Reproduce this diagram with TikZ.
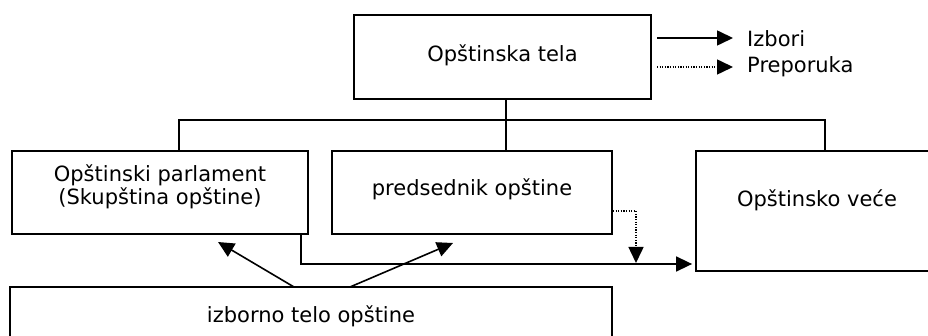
\documentclass[tikz,border=0pt]{standalone}
\usepackage{fontspec}
\setmainfont{DejaVu Sans}
\usetikzlibrary{arrows.meta}
\begin{document}
\begin{tikzpicture}[x=1pt,y=-1pt,
  box/.style={draw,line width=1.8pt,inner sep=0pt},
  lbl/.style={inner sep=0pt,anchor=base,font=\fontsize{21}{24}\selectfont},
  conn/.style={line width=1.8pt},
  arr/.style={line width=1.6pt,-{Triangle[length=16pt,width=15pt]}},
  dotline/.style={line width=1.5pt,dash pattern=on 1.2pt off 1.4pt},
  dotarr/.style={dotline,-{Triangle[length=16pt,width=15pt]}}]
\useasboundingbox (0,0) rectangle (928,336);
\clip (0,0) rectangle (928,336);
% boxes
\node[box,minimum width=297pt,minimum height=84pt] (top) at (502.5,57) {};
\node[box,minimum width=296pt,minimum height=83pt] (parl) at (160,192.5) {};
\node[box,minimum width=280pt,minimum height=83pt] (pred) at (472,192.5) {};
\node[box,minimum width=242pt,minimum height=120pt] (vece) at (817,211) {};
\node[box,minimum width=602pt,minimum height=63pt] (izb) at (311,318.5) {};
% texts
\node[lbl] (toptxt) at (502.5,62) {Opštinska tela};
\node[lbl] (parltxta) at (160,182) {Opštinski parlament};
\node[lbl] (parltxtb) at (160,205) {(Skupština opštine)};
\node[lbl] (predtxt) at (472,196) {predsednik opštine};
\node[lbl] (vecetxt) at (817,207) {Opštinsko veće};
\node[lbl] (izbtxt) at (311,322) {izborno telo opštine};
% legend
\node[lbl,anchor=base west] (lg1) at (747,47) {Izbori};
\node[lbl,anchor=base west] (lg2) at (747,73) {Preporuka};
\coordinate (la1) at (657,38);
\coordinate (lb1) at (733,38);
\coordinate (la2) at (657,67);
\coordinate (lb2) at (733,67);
\draw[arr] (la1) -- (lb1);
\draw[dotarr] (la2) -- (lb2);
% tree connectors
\coordinate (jm) at (506,120);
\coordinate (jl) at (179,120);
\coordinate (jr) at (825,120);
\draw[conn] (top.south -| jm) -- (pred.north -| jm);
\draw[conn] (parl.north -| jl) -- (jl) -- (jr) -- (vece.north -| jr);
% parlament -> vece
\coordinate (pv) at (301,264);
\draw[arr,shorten >=3pt] (parl.south -| pv) |- (vece.west |- pv);
% predsednik dotted -> line
\coordinate (dm) at (636,211);
\coordinate (dd) at (636,263);
\draw[dotarr] (dm -| pred.east) -- (dm) -- (dd);
% izborno telo arrows
\coordinate (s1) at (294,287);
\coordinate (t1) at (218,242);
\coordinate (s2) at (350,287);
\coordinate (t2) at (453,243);
\draw[arr] (s1) -- (t1);
\draw[arr] (s2) -- (t2);
\end{tikzpicture}
\end{document}
